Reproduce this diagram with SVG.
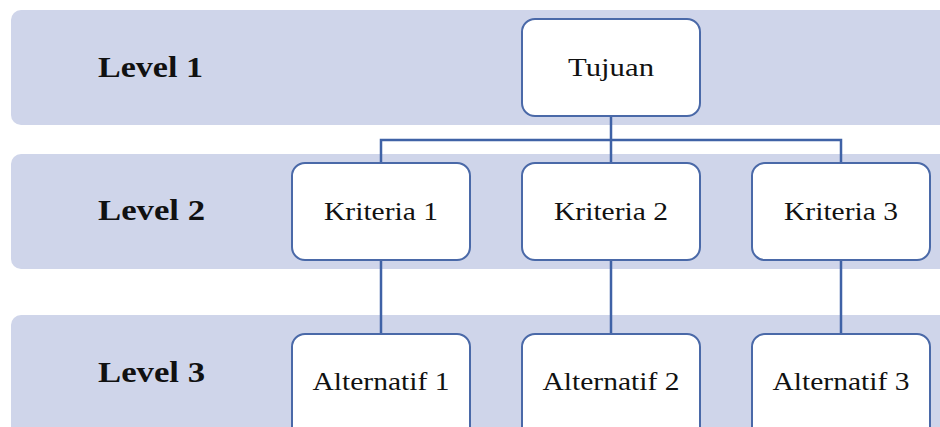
<svg xmlns="http://www.w3.org/2000/svg" width="940" height="427" viewBox="0 0 940 427">
<style>
.band{fill:#cfd5ea}
.box{fill:#fff;stroke:#4a69a8;stroke-width:2}
.lvl{font-family:"Liberation Serif",serif;font-weight:bold;font-size:29px;fill:#111}
.t{font-family:"Liberation Serif",serif;font-size:26px;fill:#111;text-anchor:middle}
.c{fill:none;stroke:#3f62a6;stroke-width:2.5}
</style>
<rect class="band" x="11" y="10" width="940" height="115" rx="10"/>
<rect class="band" x="11" y="154" width="940" height="115" rx="10"/>
<rect class="band" x="11" y="315" width="940" height="130" rx="10"/>
<text class="lvl" x="98" y="77" textLength="105" lengthAdjust="spacingAndGlyphs">Level 1</text>
<text class="lvl" x="98" y="220" textLength="107" lengthAdjust="spacingAndGlyphs">Level 2</text>
<text class="lvl" x="98" y="382" textLength="107" lengthAdjust="spacingAndGlyphs">Level 3</text>
<g id="connectors">
<path class="c" d="M611 116V140M381 163V140H841V163M611 140V163"/>
<path class="c" d="M381 260V334M611 260V334M841 260V334"/>
</g>
<g id="tujuan"><rect class="box" x="522" y="19" width="178" height="97" rx="13"/><text class="t" x="611" y="76" textLength="86" lengthAdjust="spacingAndGlyphs">Tujuan</text></g>
<g id="kriteria1"><rect class="box" x="292" y="163" width="178" height="97" rx="13"/><text class="t" x="381" y="220" textLength="114" lengthAdjust="spacingAndGlyphs">Kriteria 1</text></g>
<g id="kriteria2"><rect class="box" x="522" y="163" width="178" height="97" rx="13"/><text class="t" x="611" y="220" textLength="114" lengthAdjust="spacingAndGlyphs">Kriteria 2</text></g>
<g id="kriteria3"><rect class="box" x="752" y="163" width="178" height="97" rx="13"/><text class="t" x="841" y="220" textLength="114" lengthAdjust="spacingAndGlyphs">Kriteria 3</text></g>
<g id="alternatif1"><rect class="box" x="292" y="334" width="178" height="110" rx="13"/><text class="t" x="381" y="390" textLength="137" lengthAdjust="spacingAndGlyphs">Alternatif 1</text></g>
<g id="alternatif2"><rect class="box" x="522" y="334" width="178" height="110" rx="13"/><text class="t" x="611" y="390" textLength="137" lengthAdjust="spacingAndGlyphs">Alternatif 2</text></g>
<g id="alternatif3"><rect class="box" x="752" y="334" width="178" height="110" rx="13"/><text class="t" x="841" y="390" textLength="137" lengthAdjust="spacingAndGlyphs">Alternatif 3</text></g>
</svg>
